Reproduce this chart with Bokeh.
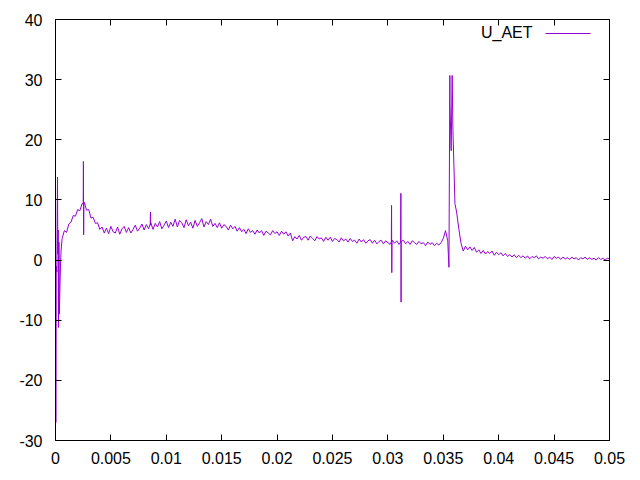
from bokeh.plotting import figure
from bokeh.models import FixedTicker, LinearAxis, Label, Arrow, Range1d, ColumnDataSource
from bokeh.embed import file_html
from bokeh.resources import INLINE

# ---- data ----
T0 = 0.0006      # first regularly sampled time
DT = 0.0002      # sampling step of the regular series
u_grid = [
    3.6, 4.9, 4.6, 6.0, 6.3, 7.4, 7.3, 8.4, 8.2, 9.4,
    9.6, 8.3, 8.4, 7.0, 7.1, 6.1, 6.2, 5.1, 5.5, 4.5,
    5.3, 4.4, 5.6, 4.7, 4.5, 5.5, 4.3, 5.2, 5.6, 4.6,
    5.4, 4.5, 5.1, 5.8, 4.8, 5.3, 6.0, 5.0, 5.9, 5.2,
    6.2, 5.1, 6.1, 5.5, 6.4, 5.2, 5.8, 6.5, 5.4, 6.3,
    5.6, 6.8, 5.5, 6.6, 6.2, 5.4, 6.7, 5.7, 6.3, 5.3,
    6.6, 5.6, 6.2, 6.9, 5.5, 6.4, 5.9, 6.8, 5.6, 6.1,
    5.4, 6.2, 5.3, 5.9, 5.6, 5.0, 5.8, 5.2, 5.6, 4.8,
    5.4, 4.7, 5.1, 4.4, 5.2, 4.6, 4.9, 4.3, 5.0, 4.5,
    4.9, 4.1, 4.8, 4.5, 4.2, 4.9, 4.4, 4.7, 4.1, 4.8,
    4.3, 4.7, 4.0, 4.5, 3.2, 3.9, 3.5, 4.1, 3.3, 3.8,
    3.9, 3.3, 4.0, 3.6, 3.2, 3.9, 3.5, 3.7, 3.1, 3.8,
    3.3, 3.8, 3.1, 3.6, 3.4, 3.0, 3.7, 3.2, 3.5, 3.0,
    3.6, 3.1, 3.3, 2.8, 3.5, 3.0, 3.4, 2.8, 3.2, 3.4,
    2.8, 3.3, 2.7, 3.1, 3.3, 2.7, 3.2, 2.9, 2.6, 3.3,
    2.8, 3.2, 2.6, 3.0, 3.3, 2.7, 3.1, 2.6, 3.2, 2.9,
    2.6, 3.1, 2.7, 2.9, 2.4, 3.0, 2.6, 2.9, 2.4, 2.8,
    2.5, 2.9, 3.6, 4.9, 3.2, 26.0, 30.7, 13.0, 8.0, 5.2,
    2.8, 1.5, 2.3, 1.7, 2.2, 1.6, 2.1, 1.3, 1.7, 1.1,
    1.6, 1.0, 1.4, 1.1, 1.5, 0.8, 1.3, 0.9, 1.2, 0.7,
    1.1, 0.6, 0.9, 0.5, 0.9, 0.4, 0.8, 0.4, 0.7, 0.3,
    0.7, 0.2, 0.6, 0.4, 0.7, 0.2, 0.5, 0.3, 0.6, 0.2,
    0.5, 0.1, 0.6, 0.3, 0.5, 0.1, 0.5, 0.2, 0.4, 0.1,
    0.5, 0.2, 0.4, 0.0, 0.4, 0.2, 0.5, 0.1, 0.4, 0.1,
    0.3, 0.0, 0.4, 0.1, 0.3, 0.0, 0.3, 0.2,
]

# irregular samples: start transient and spikes
t_events = [
    0.00000, 0.00003, 0.00007, 0.00012, 0.00018, 0.00021, 0.00024,
    0.00027, 0.00031, 0.00035, 0.00040, 0.00045, 0.00050,
    0.00250, 0.00252, 0.00254, 0.00256,
    0.00855, 0.00857, 0.00859,
    0.03031, 0.03033, 0.03035, 0.03037,
    0.03115, 0.03117, 0.03119, 0.03121,
    0.03551, 0.03559, 0.03571, 0.03587, 0.03605,
]
u_events = [
    -3.0, -27.0, -1.0, -2.0, 13.8, 1.0, 5.0,
    -11.2, 3.0, -9.0, -4.5, -1.0, 1.5,
    9.3, 16.4, 4.2, 9.4,
    6.0, 8.0, 5.8,
    3.0, 9.1, -2.1, 3.2,
    3.0, 11.1, -7.0, 3.1,
    -1.2, 30.7, 18.2, 21.5, 9.4,
]

x_ticks = [0, 0.005, 0.01, 0.015, 0.02, 0.025, 0.03, 0.035, 0.04, 0.045, 0.05]
x_tick_labels = ["0", "0.005", "0.01", "0.015", "0.02", "0.025", "0.03", "0.035", "0.04", "0.045", "0.05"]
y_ticks = [-30, -20, -10, 0, 10, 20, 30, 40]
series_name = "U_AET"

# ---- build table ----
t_grid = [round(T0 + DT * i, 6) for i in range(len(u_grid))]
pairs = sorted(zip(t_grid + t_events, u_grid + u_events))
src = ColumnDataSource(dict(t=[p_[0] for p_ in pairs], u=[p_[1] for p_ in pairs]))

FONT = "Liberation Sans"
FS = "16px"
COLOR = "#9400D3"

p = figure(width=632, height=472, output_backend="svg", toolbar_location=None,
           x_range=Range1d(0, 0.05), y_range=Range1d(-30, 40),
           min_border_left=55, min_border_right=23, min_border_top=19, min_border_bottom=32,
           x_axis_location="below", y_axis_location="left")
p.background_fill_color = "white"
p.border_fill_color = "white"
p.outline_line_color = "black"
p.outline_line_width = 1
p.outline_line_alpha = 1
p.xgrid.visible = False
p.ygrid.visible = False

p.line("t", "u", source=src, line_color=COLOR, line_width=1)

def style_axis(ax, ticks, overrides=None, show_labels=True, standoff=11):
    ax.ticker = FixedTicker(ticks=ticks)
    ax.major_tick_in = 6
    ax.major_tick_out = 0
    ax.minor_tick_in = 0
    ax.minor_tick_out = 0
    ax.axis_line_color = "black"
    ax.major_tick_line_color = "black"
    ax.major_label_text_font = FONT
    ax.major_label_text_color = "black"
    if overrides:
        ax.major_label_overrides = overrides
    if show_labels:
        ax.major_label_text_font_size = FS
        ax.major_label_standoff = standoff
    else:
        ax.major_label_text_font_size = "0px"
        ax.major_label_standoff = 0
        ax.major_label_text_alpha = 0

xo = {t: l for t, l in zip(x_ticks, x_tick_labels)}
yo = {t: str(t) for t in y_ticks}
style_axis(p.xaxis[0], x_ticks, xo, standoff=11)
style_axis(p.yaxis[0], y_ticks, yo, standoff=13)

top_ax = LinearAxis()
right_ax = LinearAxis()
style_axis(top_ax, x_ticks, show_labels=False)
style_axis(right_ax, y_ticks, show_labels=False)
p.add_layout(top_ax, "above")
p.add_layout(right_ax, "right")

# gnuplot-style key: label then line sample
p.add_layout(Label(x=477, y=408, x_units="screen", y_units="screen", text=series_name,
                   text_align="right", text_baseline="middle",
                   text_font=FONT, text_font_size=FS, text_color="black"))
p.add_layout(Arrow(x_start=490, y_start=407, x_end=535, y_end=407,
                   start_units="screen", end_units="screen", end=None,
                   line_color=COLOR, line_width=1))

open("out.html", "w").write(file_html(p, INLINE))
